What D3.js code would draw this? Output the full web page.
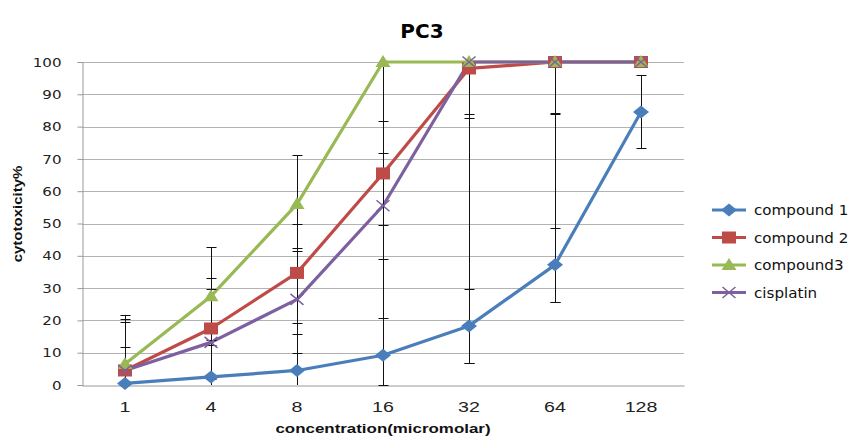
<!DOCTYPE html>
<html>
<head>
<meta charset="utf-8">
<script src="https://cdn.jsdelivr.net/npm/d3@7"></script>
<style>
  body { margin: 0; background: #fff; }
  text { font-family: "DejaVu Sans", Verdana, sans-serif; }
</style>
</head>
<body>
<div id="chart"></div>
<script>
var width = 851, height = 437;

// data
var concentrations = ["1", "4", "8", "16", "32", "64", "128"];
var yTicks = [0, 10, 20, 30, 40, 50, 60, 70, 80, 90, 100];

var compound1 = [0.5, 2.5, 4.5, 9.2, 18.3, 37.2, 84.5];
var compound2 = [4.5, 17.5, 34.7, 65.5, 98, 100, 100];
var compound3 = [6.5, 27.5, 56, 100, 100, 100, 100];
var cisplatin = [4.5, 13.2, 26.5, 55.5, 100, 100, 100];

// error bars (plus / minus)
var err1Plus = [11.4, 11.4, 11.3, 11.4, 11.3, 11.3, 11.5];
var err1Minus = [11.4, 11.4, 11.3, 11.4, 11.6, 11.6, 11.2];
var err2Plus = [16.0, 15.5, 15.3, 16.2, 15.4, 15.7, 0];
var err2Minus = [16.0, 15.5, 15.6, 16.0, 15.4, 15.7, 0];
var err3Plus = [15.2, 15.1, 15.1, 15.0, 15.0, 15.0, 0];
var err3Minus = [15.2, 15.1, 14.6, 100, 93.3, 74.4, 0];
var errCisPlus = [15.1, 16.4, 16.0, 16.2, 16.2, 16.2, 0];
var errCisMinus = [15.1, 16.4, 16.7, 16.6, 16.2, 16.2, 0];

var seriesNames = ["compound 1", "compound 2", "compound3", "cisplatin"];
var seriesColors = ["#4a7ebb", "#be4b48", "#98b954", "#7d60a0"];
var seriesShapes = ["diamond", "square", "triangle", "cross"];

var series = [
  { name: seriesNames[0], values: compound1, plus: err1Plus, minus: err1Minus, color: seriesColors[0], shape: seriesShapes[0] },
  { name: seriesNames[1], values: compound2, plus: err2Plus, minus: err2Minus, color: seriesColors[1], shape: seriesShapes[1] },
  { name: seriesNames[2], values: compound3, plus: err3Plus, minus: err3Minus, color: seriesColors[2], shape: seriesShapes[2] },
  { name: seriesNames[3], values: cisplatin, plus: errCisPlus, minus: errCisMinus, color: seriesColors[3], shape: seriesShapes[3] }
];

var plot = { left: 82, right: 684, top: 62, bottom: 385 };

var svg = d3.select("#chart")
    .append("svg")
    .attr("width", width)
    .attr("height", height);

var x = d3.scaleBand()
    .domain(concentrations)
    .range([plot.left, plot.right]);

var y = d3.scaleLinear()
    .domain([0, 100])
    .range([plot.bottom, plot.top]);

function cx(c) { return x(c) + x.bandwidth() / 2; }

// the original picture is a bit wider than tall, so stretch text sideways
function stretch(sel, factor) {
    sel.each(function(){
        var len = this.getComputedTextLength();
        d3.select(this)
            .attr("textLength", len * factor)
            .attr("lengthAdjust", "spacingAndGlyphs");
    });
}

// gridlines
svg.append("g")
    .selectAll("line")
    .data(yTicks.filter(function(t){ return t > 0; }))
    .enter()
    .append("line")
    .attr("x1", plot.left)
    .attr("x2", plot.right)
    .attr("y1", function(d){ return Math.round(y(d)) + 0.5; })
    .attr("y2", function(d){ return Math.round(y(d)) + 0.5; })
    .attr("stroke", "#b3b3b3")
    .attr("stroke-width", 1);

// y axis
var yAxis = svg.append("g")
    .attr("transform", "translate(" + (plot.left + 0.5) + ",0)")
    .call(d3.axisLeft(y).tickValues(yTicks).tickSize(5).tickPadding(16));
yAxis.select(".domain").attr("stroke", "#999");
yAxis.selectAll(".tick line").attr("stroke", "#999");
yAxis.selectAll(".tick text")
    .attr("font-size", 13)
    .attr("fill", "#222")
    .style("font-family", "DejaVu Sans, Verdana, sans-serif")
    .call(stretch, 1.16);

// x axis
var xAxis = svg.append("g")
    .attr("transform", "translate(0," + (plot.bottom + 0.5) + ")")
    .call(d3.axisBottom(x).tickSize(0).tickPadding(17));
xAxis.select(".domain").attr("stroke", "#999");
xAxis.selectAll(".tick text")
    .attr("font-size", 14)
    .attr("fill", "#222")
    .style("font-family", "Liberation Sans, Arial, sans-serif")
    .call(stretch, 1.4);

// lines
var line = d3.line()
    .x(function(d, i){ return cx(concentrations[i]); })
    .y(function(d){ return y(d); });

series.forEach(function(s){
    svg.append("path")
        .datum(s.values)
        .attr("d", line)
        .attr("fill", "none")
        .attr("stroke", s.color)
        .attr("stroke-width", 3.2)
        .attr("stroke-linejoin", "round");
});

// error bars, clipped to the axis range
series.forEach(function(s){
    s.values.forEach(function(v, i){
        if (s.plus[i] == 0 && s.minus[i] == 0) return;
        var px = Math.round(cx(concentrations[i])) + 0.5;
        var hi = v + s.plus[i], lo = v - s.minus[i];
        var g = svg.append("g").attr("stroke", "#111").attr("stroke-width", 1);
        g.append("line")
            .attr("x1", px).attr("x2", px)
            .attr("y1", y(Math.min(hi, 100)))
            .attr("y2", y(Math.max(lo, 0)));
        if (hi <= 100) {
            g.append("line").attr("x1", px - 5).attr("x2", px + 5)
                .attr("y1", Math.round(y(hi)) + 0.5).attr("y2", Math.round(y(hi)) + 0.5);
        }
        if (lo >= 0) {
            g.append("line").attr("x1", px - 5).attr("x2", px + 5)
                .attr("y1", Math.round(y(lo)) + 0.5).attr("y2", Math.round(y(lo)) + 0.5);
        }
    });
});

function drawMarker(g, shape, color, px, py) {
    if (shape == "diamond") {
        g.append("path")
            .attr("d", "M" + px + "," + (py - 6.5) + "L" + (px + 8) + "," + py + "L" + px + "," + (py + 6.5) + "L" + (px - 8) + "," + py + "Z")
            .attr("fill", color);
    }
    else if (shape == "square") {
        g.append("rect")
            .attr("x", px - 7).attr("y", py - 6)
            .attr("width", 14).attr("height", 12)
            .attr("fill", color);
    }
    else if (shape == "triangle") {
        g.append("path")
            .attr("d", "M" + px + "," + (py - 7) + "L" + (px + 7.5) + "," + (py + 5) + "L" + (px - 7.5) + "," + (py + 5) + "Z")
            .attr("fill", color);
    }
    else {
        g.append("path")
            .attr("d", "M" + (px - 6.5) + "," + (py - 5.5) + "L" + (px + 6.5) + "," + (py + 5.5) + "M" + (px + 6.5) + "," + (py - 5.5) + "L" + (px - 6.5) + "," + (py + 5.5))
            .attr("stroke", color)
            .attr("stroke-width", 1.5)
            .attr("fill", "none");
    }
}

// markers
series.forEach(function(s){
    var g = svg.append("g");
    s.values.forEach(function(v, i){
        drawMarker(g, s.shape, s.color, cx(concentrations[i]), y(v));
    });
});

// legend
var legend = svg.append("g");
series.forEach(function(s, i){
    var ly = 210 + i * 27.5;
    legend.append("line")
        .attr("x1", 712).attr("x2", 746)
        .attr("y1", ly).attr("y2", ly)
        .attr("stroke", s.color)
        .attr("stroke-width", 3);
    drawMarker(legend, s.shape, s.color, 729, ly);
    legend.append("text")
        .attr("x", 754)
        .attr("y", ly + 5)
        .attr("font-size", 13.5)
        .attr("fill", "#111")
        .text(s.name)
        .call(stretch, 1.12);
});

// title
svg.append("text")
    .attr("x", 422)
    .attr("y", 38)
    .attr("text-anchor", "middle")
    .attr("font-size", 20)
    .attr("font-weight", "bold")
    .attr("fill", "#000")
    .text("PC3");

// axis titles
svg.append("text")
    .attr("x", 383)
    .attr("y", 433)
    .attr("text-anchor", "middle")
    .attr("font-size", 13)
    .attr("font-weight", "bold")
    .style("font-family", "Liberation Sans, Arial, sans-serif")
    .attr("fill", "#111")
    .text("concentration(micromolar)")
    .call(stretch, 1.3);

svg.append("text")
    .attr("transform", "translate(22,214) rotate(-90)")
    .attr("text-anchor", "middle")
    .attr("font-size", 12)
    .attr("font-weight", "bold")
    .style("font-family", "Liberation Sans, Arial, sans-serif")
    .attr("fill", "#111")
    .text("cytotoxicity%")
    .call(stretch, 1.25);
</script>
</body>
</html>
